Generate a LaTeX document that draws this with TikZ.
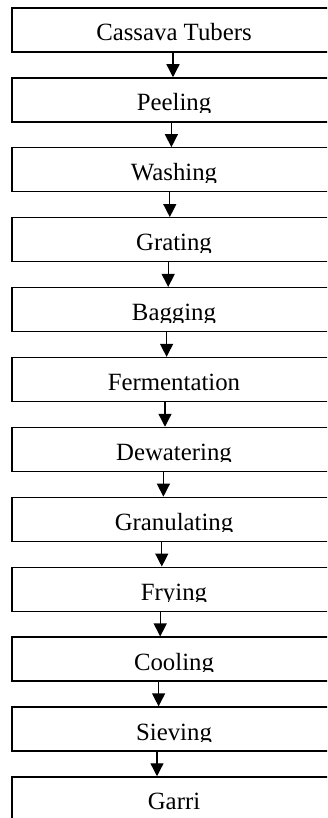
\documentclass[tikz,border=0pt]{standalone}
\usepackage{fontspec}
\setmainfont{Liberation Serif}
\usetikzlibrary{arrows.meta}
\tikzset{
  box/.style={draw=black, line width=1.3pt, rectangle, minimum width=324pt, minimum height=44pt, inner sep=0pt},
  lbl/.style={anchor=base, inner sep=0pt, font=\fontsize{24.8}{30}\selectfont},
  arr/.style={line width=1.3pt, -{Triangle[length=13pt,width=13pt]}}
}
\begin{document}
\begin{tikzpicture}[x=1pt,y=-1pt]
\useasboundingbox (0,0) rectangle (327,818);
\fill[white] (0,0) rectangle (327,818);
\clip (0,0) rectangle (327,818);
\foreach \i/\t in {1/Cassava Tubers,2/Peeling,3/Washing,4/Grating,5/Bagging,6/Fermentation,7/Dewatering,8/Granulating,9/Frying,10/Cooling,11/Sieving,12/Garri}{
  \pgfmathsetmacro\yt{8+69.9*(\i-1)}
  \node[box] (b\i) at (174,\yt+22) {};
  \begin{scope}
    \clip (12,\yt) rectangle (336,\yt+34.5);
    \node[lbl] (t\i) at (174,\yt+33) {\t};
  \end{scope}
}
\foreach \i [evaluate=\i as \j using int(\i+1), evaluate=\i as \s using -1-1.6*(\i-1)] in {1,...,11}
  \draw[arr] ([xshift=\s pt]b\i.south) -- ([xshift=\s pt]b\j.north);
\end{tikzpicture}
\end{document}
